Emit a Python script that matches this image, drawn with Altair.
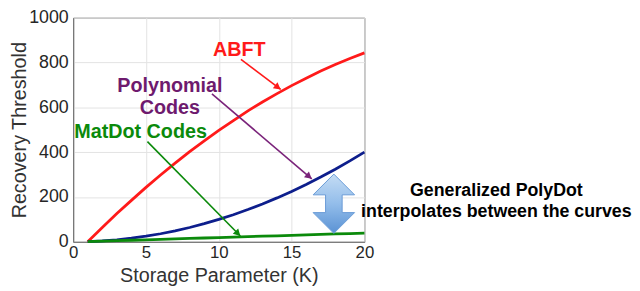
import math
import altair as alt
import pandas as pd

# ---------------- data ----------------
K = list(range(1, 21))
abft = [0, 64, 126, 185, 243, 298, 351, 402, 450, 497,
        541, 584, 624, 661, 697, 730, 762, 791, 818, 843]
polynomial = [1, 4, 9, 16, 25, 36, 49, 64, 81, 100,
              121, 144, 169, 196, 225, 256, 289, 324, 361, 400]
matdot = [1, 3, 5, 7, 9, 11, 13, 15, 17, 19,
          21, 23, 25, 27, 29, 31, 33, 35, 37, 39]

series_names = ["ABFT", "Polynomial Codes", "MatDot Codes"]
series_colors = ["#ff1a1a", "#0d1e8c", "#0b8a0b"]

x_ticks = [0, 5, 10, 15, 20]
y_ticks = [0, 200, 400, 600, 800, 1000]

# annotation arrows (data coordinates)
arrow_x1 = [11.52, 9.53, 5.10]
arrow_y1 = [814, 660, 447]
arrow_x2 = [14.25, 16.38, 11.48]
arrow_y2 = [680, 281, 26]
arrow_colors = ["#ff1a1a", "#7a237a", "#0b8a0b"]

label_text = ["ABFT", "Polynomial", "Codes", "MatDot Codes"]
label_x = [11.41, 6.64, 6.64, 4.63]
label_y = [855, 694, 596, 489]
label_colors = ["#ff1a1a", "#6e1a6e", "#6e1a6e", "#0b8a0b"]

note_text = ["Generalized PolyDot", "interpolates between the curves"]
note_x = [29.06, 29.06]
note_y = [226, 132]

dbl_x = [17.9]
dbl_y = [170]

# ---------------- layout ----------------
W, H = 295, 227
FONT = "Liberation Sans"

rows = []
for name, vals in zip(series_names, [abft, polynomial, matdot]):
    for k, v in zip(K, vals):
        rows.append({"K": k, "value": v, "series": name})
curves = pd.DataFrame(rows)

arrows = pd.DataFrame({
    "x1": arrow_x1, "y1": arrow_y1, "x2": arrow_x2, "y2": arrow_y2,
    "color": arrow_colors,
})
arrows["angle"] = [
    math.degrees(math.atan2((a - b) * H / 1000.0, (d - c) * W / 20.0)) % 360
    for a, b, c, d in zip(arrow_y1, arrow_y2, arrow_x1, arrow_x2)
]

labels = pd.DataFrame({"x": label_x, "y": label_y, "text": label_text, "color": label_colors})
notes = pd.DataFrame({"x": note_x, "y": note_y, "text": note_text})
dbl = pd.DataFrame({"x": dbl_x, "y": dbl_y})

xscale = alt.Scale(domain=[0, 20], nice=False)
yscale = alt.Scale(domain=[0, 1000], nice=False)

x_axis = alt.Axis(
    values=x_ticks, format="d", title="Storage Parameter (K)", grid=True, ticks=False,
    labelFontSize=17, titleFontSize=20, labelPadding=3, labelFlush=False,
    titleY=40, titleX=W / 2, titleBaseline="alphabetic", titleAlign="center",
    labelColor="#262626", titleColor="#333333", domainColor="#666666",
    gridColor="#e3e3e3", labelFont=FONT, titleFont=FONT, titleFontWeight="normal",
)
y_axis = alt.Axis(
    values=y_ticks, format="d", title="Recovery Threshold", grid=True, ticks=False,
    labelFontSize=18, titleFontSize=20, labelPadding=5, labelFlush=False,
    titleX=-48, titleY=H / 2, titleAngle=270, titleBaseline="alphabetic",
    titleAlign="center",
    labelColor="#262626", titleColor="#333333", domainColor="#666666",
    gridColor="#e3e3e3", labelFont=FONT, titleFont=FONT, titleFontWeight="normal",
)

lines = alt.Chart(curves).mark_line(strokeWidth=2.8).encode(
    x=alt.X("K:Q", scale=xscale, axis=x_axis),
    y=alt.Y("value:Q", scale=yscale, axis=y_axis),
    color=alt.Color("series:N", scale=alt.Scale(domain=series_names, range=series_colors), legend=None),
    detail="series:N",
)

arrow_lines = alt.Chart(arrows).mark_rule(strokeWidth=1.6).encode(
    x=alt.X("x1:Q", scale=xscale), y=alt.Y("y1:Q", scale=yscale),
    x2="x2:Q", y2="y2:Q",
    color=alt.Color("color:N", scale=None),
)

arrow_heads = alt.Chart(arrows).mark_point(
    shape="M0,0 L-1,-0.55 L-1,0.55 Z", size=196, filled=True, opacity=1
).encode(
    x=alt.X("x2:Q", scale=xscale), y=alt.Y("y2:Q", scale=yscale),
    angle=alt.Angle("angle:Q", scale=None),
    color=alt.Color("color:N", scale=None),
)

label_marks = alt.Chart(labels).mark_text(
    font=FONT, fontSize=20, fontWeight="bold", align="center", baseline="middle"
).encode(
    x=alt.X("x:Q", scale=xscale), y=alt.Y("y:Q", scale=yscale),
    text="text:N", color=alt.Color("color:N", scale=None),
)

note_marks = alt.Chart(notes).mark_text(
    font=FONT, fontSize=18, fontWeight="bold", align="center", baseline="middle", color="#000000"
).encode(
    x=alt.X("x:Q", scale=xscale), y=alt.Y("y:Q", scale=yscale), text="text:N",
)

dbl_path = ("M0,-1 L0.7,-0.3 L0.28,-0.3 L0.28,0.3 L0.7,0.3 L0,1 "
            "L-0.7,0.3 L-0.28,0.3 L-0.28,-0.3 L-0.7,-0.3 Z")
dbl_arrow = alt.Chart(dbl).mark_point(
    shape=dbl_path, size=3600, filled=True, opacity=1,
    fill=alt.Gradient(
        gradient="linear", x1=0, y1=0, x2=0, y2=1,
        stops=[alt.GradientStop(color="#c4dcf4", offset=0),
               alt.GradientStop(color="#93bdea", offset=0.5),
               alt.GradientStop(color="#5a92d4", offset=1)],
    ),
    stroke="#6a9bd6", strokeWidth=1,
).encode(
    x=alt.X("x:Q", scale=xscale), y=alt.Y("y:Q", scale=yscale),
)

chart = alt.layer(
    lines, arrow_lines, arrow_heads, label_marks, note_marks, dbl_arrow
).properties(
    width=W, height=H,
    autosize=alt.AutoSizeParams(type="none"),
    padding={"left": 66, "top": 8, "right": 271, "bottom": 48},
).configure_view(stroke="#666666", strokeWidth=1)

chart.save("out.html", embed_options={"renderer": "svg", "actions": False})
